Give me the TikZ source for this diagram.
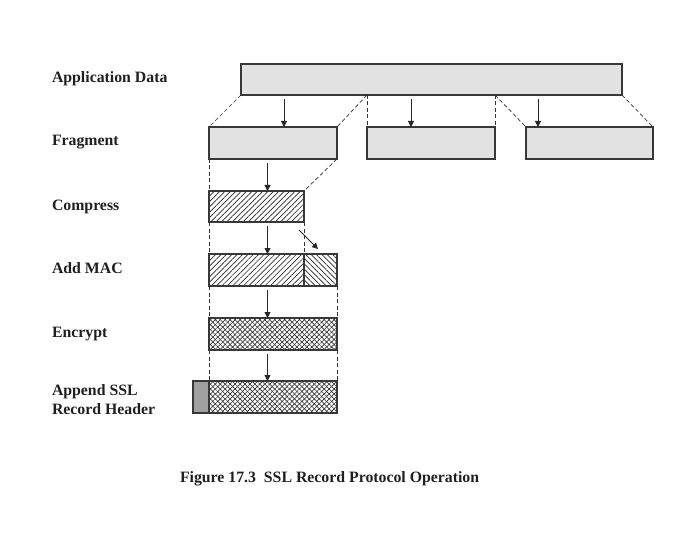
\documentclass[tikz,border=0pt]{standalone}
\usepackage{fontspec}
\setmainfont{Liberation Serif}
\usetikzlibrary{
    positioning,
    arrows.meta,
    patterns.meta
}
\definecolor{edge}{HTML}{383838}
\definecolor{bar}{HTML}{E2E2E2}
\definecolor{hdrgray}{HTML}{A0A0A0}

\begin{document}
\begin{tikzpicture}[
      x=1pt, y=-1pt,
      every node/.style={inner sep=0pt, outer sep=0pt},
      lbl/.style={anchor=base west, align=left, text=black!88, font=\fontsize{15.8}{19}\selectfont\bfseries},
      blk/.style={draw=edge, line width=1.5pt, anchor=north west, minimum height=32pt},
      plain/.style={blk, fill=bar},
      hatched/.style={blk, pattern={Lines[angle=45, distance=3.8pt, line width=0.7pt]}, pattern color=black!85},
      backhatched/.style={blk, pattern={Lines[angle=-45, distance=3.8pt, line width=0.7pt]}, pattern color=black!85},
      crossed/.style={blk, preaction={pattern={Lines[angle=45, distance=3.5pt, line width=0.65pt]}, pattern color=black!80},
                      pattern={Lines[angle=-45, distance=3.5pt, line width=0.65pt]}, pattern color=black!80},
      guide/.style={dash pattern=on 4pt off 2.5pt, line width=0.7pt, black!80},
      flow/.style={-{Triangle[length=6pt, width=6pt]}, line width=0.9pt, black!85}
    ]
    \useasboundingbox (0,0) rectangle (698,540);

    % row labels
    \node[lbl] (lapp) at (52,82.5) {Application Data};
    \node[lbl] (lfrag) at (52,146) {Fragment};
    \node[lbl] (lcomp) at (52,210) {Compress};
    \node[lbl] (lmac) at (52,273) {Add MAC};
    \node[lbl] (lenc) at (52,337) {Encrypt};
    \node[lbl] (lhdr) at (52,414) {Append SSL\\Record Header};

    % blocks
    \node[plain, minimum width=381pt, minimum height=31pt] (app) at (241,64) {};
    \node[plain, minimum width=128pt] (frag1) at (209,127) {};
    \node[plain, minimum width=128pt] (frag2) at (367,127) {};
    \node[plain, minimum width=127pt] (frag3) at (526,127) {};
    \node[hatched, minimum width=95pt, minimum height=31pt] (comp) at (209,191) {};
    \node[hatched, minimum width=95pt] (macdata) at (209,254) {};
    \node[backhatched, minimum width=33pt] (mac) at (macdata.north east) {};
    \node[crossed, minimum width=128pt] (enc) at (209,318) {};
    \node[crossed, minimum width=128pt] (rec) at (209,381) {};
    \node[blk, fill=hdrgray, minimum width=16pt, anchor=north east] (hdr) at (rec.north west) {};

    % dashed guides
    \coordinate (cut1) at (367,95);
    \coordinate (cut2) at (495,95);
    \draw[guide] (app.south west) -- (frag1.north west);
    \draw[guide] (cut1) -- (frag1.north east);
    \draw[guide] (cut1) -- (frag2.north west);
    \draw[guide] (cut2) -- (frag2.north east);
    \draw[guide] (cut2) -- (frag3.north west);
    \draw[guide] (app.south east) -- (frag3.north east);
    \draw[guide] (frag1.south west) -- (comp.north west);
    \draw[guide] (frag1.south east) -- (comp.north east);
    \draw[guide] (comp.south west) -- (macdata.north west);
    \draw[guide] (comp.south east) -- (macdata.north east);
    \draw[guide] (macdata.south west) -- (enc.north west);
    \draw[guide] (mac.south east) -- (enc.north east);
    \draw[guide] (enc.south west) -- (rec.north west);
    \draw[guide] (enc.south east) -- (rec.north east);

    % arrows
    \coordinate (a1) at (284,99);
    \coordinate (a2) at (411,99);
    \coordinate (a3) at (538,99);
    \draw[flow] (a1) -- (a1 |- frag1.north);
    \draw[flow] (a2) -- (a2 |- frag2.north);
    \draw[flow] (a3) -- (a3 |- frag3.north);
    \coordinate (s1) at (267.5,163);
    \coordinate (s2) at (267.5,226);
    \coordinate (s3) at (267.5,290);
    \coordinate (s4) at (267.5,354);
    \draw[flow] (s1) -- (s1 |- comp.north);
    \draw[flow] (s2) -- (s2 |- macdata.north);
    \draw[flow] (s3) -- (s3 |- enc.north);
    \draw[flow] (s4) -- (s4 |- rec.north);
    \coordinate (m1) at (299,230);
    \coordinate (m2) at (318,249);
    \draw[flow] (m1) -- (m2);

    % caption
    \node[lbl] (cap) at (180,482) {Figure 17.3~~SSL Record Protocol Operation};
  \end{tikzpicture}
\end{document}
